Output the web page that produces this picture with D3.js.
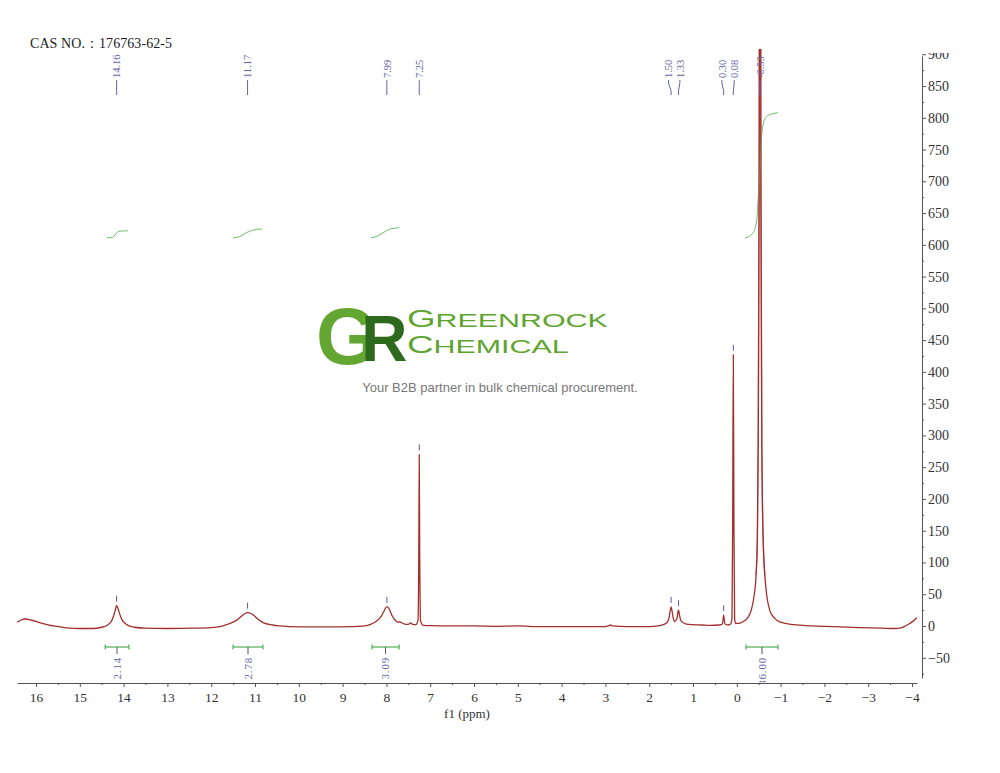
<!DOCTYPE html>
<html><head><meta charset="utf-8">
<script src="https://cdn.jsdelivr.net/npm/d3@7"></script>
<style>body{margin:0;background:#fff}</style>
</head><body>
<svg id="c" width="1000" height="773"></svg>
<script>
// ---------- DATA ----------
const xTickValues = [16,15,14,13,12,11,10,9,8,7,6,5,4,3,2,1,0,-1,-2,-3,-4];
const xMinorValues = [15.5,14.5,13.5,12.5,11.5,10.5,9.5,8.5,7.5,6.5,5.5,4.5,3.5,2.5,1.5,0.5,-0.5,-1.5,-2.5,-3.5];
const yTickValues = [-50,0,50,100,150,200,250,300,350,400,450,500,550,600,650,700,750,800,850,900];
const yMinorValues = [-75,-25,25,75,125,175,225,275,325,375,425,475,525,575,625,675,725,775,825,875];

const specPpm = [16.43,16.35,16.25,16.1,15.9,15.6,15.3,15.0,14.7,14.5,14.4,14.32,14.26,14.21,14.18,14.16,14.13,14.09,14.04,13.98,13.9,13.75,13.5,13.0,12.5,12.0,11.8,11.65,11.5,11.4,11.3,11.22,11.17,11.1,11.0,10.9,10.8,10.65,10.45,10.2,9.8,9.3,8.8,8.5,8.35,8.22,8.12,8.05,8.0,7.97,7.92,7.86,7.8,7.74,7.69,7.65,7.58,7.5,7.45,7.41,7.33,7.28,7.26,7.25,7.24,7.22,7.17,7.0,6.5,6.0,5.5,5.0,4.5,4.0,3.5,3.0,2.92,2.88,2.84,2.5,2.0,1.8,1.68,1.6,1.55,1.52,1.50,1.48,1.45,1.42,1.39,1.36,1.34,1.33,1.31,1.28,1.22,1.15,1.0,0.8,0.6,0.4,0.33,0.31,0.30,0.29,0.27,0.2,0.14,0.11,0.095,0.08,0.065,0.05,0.03,-0.05,-0.15,-0.25,-0.33,-0.40,-0.44,-0.47,-0.49,-0.51,-0.53,-0.55,-0.57,-0.60,-0.64,-0.68,-0.75,-0.85,-1.0,-1.3,-1.7,-2.2,-2.8,-3.3,-3.6,-3.75,-3.85,-3.95,-4.05,-4.11];
const specInt = [6,9,11,9,5,0,-3,-4,-4,-2,0,4,10,20,28,32,28,19,10,5,1,-2,-3.5,-4,-3.5,-2.5,-1,2,6,10,16,20,21,20,15,9,5,2,0,-1,-1.5,-1.5,-1,0,3,8,15,24,30,30,24,15,9,6,6.5,5,3,2.5,5,3,2,8,120,270,120,8,1.5,0.5,0,0,-0.5,0,-1,-1,-1,-1,0.5,1.5,0,-1,-1,0,2,5,12,24,30,24,12,7,9,14,24,25,18,9,5,3,2,1.5,1,1.5,3,12,17,12,3,1.5,3,12,150,427,150,12,4,4,7,13,25,50,80,140,300,700,1500,700,300,140,80,50,25,13,6,2,0,-1,-2.5,-3.5,-4,-3,0,4,9,13];

// peak picking labels
const peakLabels = ["14.16","11.17","7.99","7.25","1.50","1.33","0.30","0.08","-0.53"];
const peakPpm    = [14.16,11.17,7.99,7.25,1.50,1.33,0.30,0.08,-0.53];
const peakLabelPpm = [14.16,11.17,7.99,7.25,1.56,1.30,0.34,0.06,-0.53];

// integrations
const integLabels = ["2.14","2.78","3.09","36.00"];
const integFrom = [14.42,11.50,8.33,-0.21];
const integTo   = [13.88,10.82,7.71,-0.94];
// integral curves (ppm, intensity-scale value)
const integCurvePpm = [
  [14.38,14.25,14.18,14.12,14.0,13.9],
  [11.5,11.35,11.2,11.05,10.84],
  [8.35,8.2,8.05,7.95,7.71],
  [-0.19,-0.35,-0.45,-0.50,-0.53,-0.56,-0.60,-0.68,-0.80,-0.94]
];
const integCurveVal = [
  [611,612,617,621,622,622],
  [611,613,619,623,625],
  [611,614,620,624,627],
  [611,617,636,687,718,765,789,802,806,808]
];

// ---------- CHART ----------
const svg = d3.select('#c');
const x = d3.scaleLinear().domain([16.434,-4.114]).range([17,917]);
const y = d3.scaleLinear().domain([-81.9,906.7]).range([678,50]);
const serif = '"Liberation Serif","DejaVu Serif",serif';
const sans = '"Liberation Sans",Arial,sans-serif';
const labColor = '#6464a6';

const defs = svg.append('defs');
defs.append('clipPath').attr('id','plotClip').append('rect').attr('x',17).attr('y',49).attr('width',902).attr('height',634);
defs.append('clipPath').attr('id','yClip').append('rect').attr('x',900).attr('y',53).attr('width',100).attr('height',700);
defs.append('clipPath').attr('id','botClip').append('rect').attr('x',0).attr('y',600).attr('width',1000).attr('height',82.5);

// CAS text
svg.append('text').attr('x',30).attr('y',48).attr('font-family',serif).attr('font-size',14).attr('fill','#222')
  .attr('textLength',142).attr('lengthAdjust','spacing')
  .text('CAS NO.：176763-62-5');

// logo
const gr = svg.append('text').attr('x',316).attr('y',364).attr('font-family',sans).attr('font-weight','bold');
gr.append('tspan').attr('font-size',80).attr('fill','#63a631').text('G');
gr.append('tspan').attr('font-size',64).attr('dx',-17).attr('dy',-3).attr('fill','#2e6a1e').text('R');
const lg = svg.append('g').attr('transform','translate(407,0) scale(1.6,1)');
const tl = lg.append('text').attr('font-family',sans).attr('fill','#5ea52f');
tl.append('tspan').attr('x',0).attr('y',327).attr('font-size',23).text('G');
tl.append('tspan').attr('font-size',19).text('REENROCK');
tl.append('tspan').attr('x',0).attr('y',353).attr('font-size',23).text('C');
tl.append('tspan').attr('font-size',19).text('HEMICAL');
svg.append('text').attr('x',500).attr('y',392).attr('text-anchor','middle')
  .attr('font-family',sans).attr('font-size',13).attr('fill','#777')
  .text('Your B2B partner in bulk chemical procurement.');

// X axis
const gx = svg.append('g').attr('transform','translate(0,683)')
  .call(d3.axisBottom(x).tickValues(xTickValues).tickSize(4).tickSizeOuter(0).tickPadding(5));
svg.append('g').attr('transform','translate(0,683)')
  .call(d3.axisBottom(x).tickValues(xMinorValues).tickSize(2).tickFormat(''))
  .call(g=>g.select('.domain').remove());
svg.selectAll('.tick line').attr('stroke','#555');
gx.select('.domain').attr('stroke','#555');
gx.selectAll('text').attr('font-family',serif).attr('font-size',13.5).attr('fill','#333');
svg.append('text').attr('x',467).attr('y',718).attr('text-anchor','middle')
  .attr('font-family',serif).attr('font-size',13).attr('fill','#333').text('f1 (ppm)');

// Y axis
const yAx = y.copy().domain([y.invert(678), y.invert(56)]).range([678,56]);
const gyWrap = svg.append('g').attr('clip-path','url(#yClip)');
const gy = gyWrap.append('g').attr('transform','translate(922,0)')
  .call(d3.axisRight(yAx).tickValues(yTickValues).tickSize(4).tickSizeOuter(0).tickPadding(2));
svg.append('g').attr('transform','translate(922,0)')
  .call(d3.axisRight(yAx).tickValues(yMinorValues).tickSize(2).tickFormat(''))
  .call(g=>g.select('.domain').remove())
  .selectAll('line').attr('stroke','#555');
gy.selectAll('line').attr('stroke','#555');
gy.select('.domain').attr('stroke','#555');
gy.selectAll('text').attr('font-family',serif).attr('font-size',14).attr('fill','#333');

// spectrum
const spec = specPpm.map((p,i)=>[p,specInt[i]]);
const specLine = d3.line().x(d=>x(d[0])).y(d=>y(d[1])).curve(d3.curveMonotoneX);
svg.append('path').datum(spec).attr('clip-path','url(#plotClip)')
  .attr('d', specLine)
  .attr('fill','none').attr('stroke','#a32f2c').attr('stroke-width',1.3).attr('stroke-linejoin','round');

// integral curves
integCurvePpm.forEach((ps,k)=>{
  const pts = ps.map((p,i)=>[p,integCurveVal[k][i]]);
  svg.append('path').datum(pts)
    .attr('d', d3.line().x(d=>x(d[0])).y(d=>y(d[1])).curve(d3.curveMonotoneX))
    .attr('fill','none').attr('stroke','#6cbf6c').attr('stroke-width',1);
});
// redraw the central big peak over the integral curve
svg.append('path').datum(spec.filter(d=>d[0]<=-0.44 && d[0]>=-0.64)).attr('clip-path','url(#plotClip)')
  .attr('d', specLine)
  .attr('fill','none').attr('stroke','#a32f2c').attr('stroke-opacity',0.6).attr('stroke-width',1.3);

// peak tick marks above peaks
peakPpm.forEach((p,i)=>{
  const near = spec.filter(d=>Math.abs(d[0]-p)<=0.03);
  const top = d3.max(near,d=>d[1]);
  const yt = y(top);
  if (yt < 60) return;
  svg.append('line').attr('x1',x(p)).attr('x2',x(p)).attr('y1',yt-4).attr('y2',yt-10)
    .attr('stroke','#5a5aa0').attr('stroke-width',1);
});

// peak labels at top
peakLabels.forEach((lab,i)=>{
  const xl = x(peakLabelPpm[i]), xp = x(peakPpm[i]);
  svg.append('path').attr('d', `M${xl},80 L${xl},83 L${xp},91 L${xp},95`)
    .attr('fill','none').attr('stroke',labColor).attr('stroke-width',1);
  svg.append('text').attr('transform',`translate(${xl},78) rotate(-90)`).attr('dy','0.35em')
    .attr('font-family',serif).attr('font-size',10.5).attr('fill',labColor).text(lab);
});

// integration bars and labels
const gInt = svg.append('g');
const gIntLab = svg.append('g').attr('clip-path','url(#botClip)');
integLabels.forEach((lab,i)=>{
  const a = x(integFrom[i]), b = x(integTo[i]), m = (a+b)/2, yb = 647;
  gInt.append('line').attr('x1',a).attr('x2',b).attr('y1',yb).attr('y2',yb).attr('stroke','#4caf50').attr('stroke-width',1.2);
  gInt.append('line').attr('x1',a).attr('x2',a).attr('y1',yb-2.5).attr('y2',yb+2.5).attr('stroke','#4caf50').attr('stroke-width',1.2);
  gInt.append('line').attr('x1',b).attr('x2',b).attr('y1',yb-2.5).attr('y2',yb+2.5).attr('stroke','#4caf50').attr('stroke-width',1.2);
  gInt.append('line').attr('x1',m).attr('x2',m).attr('y1',yb).attr('y2',yb+7).attr('stroke','#555').attr('stroke-width',1);
  gIntLab.append('text')
    .attr('transform',`translate(${m},657) rotate(-90)`).attr('dy','0.35em').attr('text-anchor','end')
    .attr('font-family',serif).attr('font-size',11).attr('letter-spacing',0.8).attr('fill',labColor).text(lab);
});
</script>
</body></html>
